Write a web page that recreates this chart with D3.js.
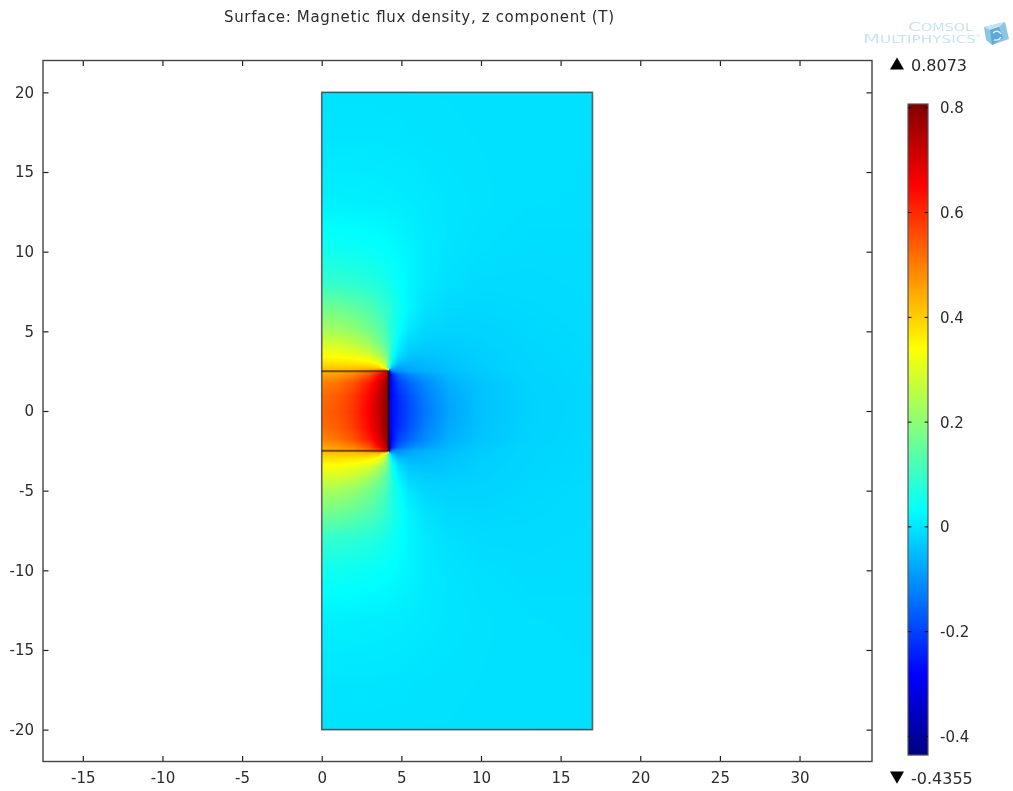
<!DOCTYPE html>
<html><head><meta charset="utf-8">
<script src="https://cdn.jsdelivr.net/npm/d3@7/dist/d3.min.js"></script>
<style>
html,body{margin:0;padding:0;background:#fff;overflow:hidden}
#wrap{position:relative;width:1013px;height:791px}
canvas,svg{position:absolute;left:0;top:0}
canvas{filter:blur(0.7px)}
text{font-family:"DejaVu Sans";fill:#2b2b2b}
</style></head><body><div id="wrap"><canvas id="field" width="1013" height="791"></canvas><svg id="chart" width="1013" height="791"></svg></div>
<script>
const titleText = "Surface: Magnetic flux density, z component (T)";
const xTicks = [-15,-10,-5,0,5,10,15,20,25,30];
const yTicks = [-20,-15,-10,-5,0,5,10,15,20];
const barTicks = [-0.4,-0.2,0,0.2,0.4,0.6,0.8];
const minValue = -0.4355, maxValue = 0.8073;
const domainBox = {x0:0,x1:17,y0:-20,y1:20};
const magnetBox = {x0:0,x1:4.2,y0:-2.5,y1:2.5};
// grid columns (radial position); 4.2 twice because the field jumps at the magnet side
const gridX = [0,1,2,3,3.6,4,4.2,4.2,4.4,4.8,5.5,6.5,8,10,13,17];
// grid rows (upper half, the picture is mirror-symmetric about y = 0)
const gridY = [0,1,1.8,2.3,2.5,2.7,3,3.5,4.2,5,6.5,8,10,13,17,20];
const fieldRows = [
[.53,.55,.59,.66,.73,.78,.80,-.30,-.27,-.235,-.19,-.135,-.08,-.045,-.025,-.015],
[.52,.54,.58,.65,.72,.78,.80,-.31,-.27,-.23,-.18,-.125,-.075,-.043,-.024,-.015],
[.49,.51,.55,.62,.69,.76,.80,-.34,-.27,-.20,-.155,-.11,-.065,-.04,-.023,-.014],
[.45,.46,.49,.55,.64,.73,.77,-.42,-.24,-.16,-.115,-.085,-.055,-.035,-.021,-.014],
[.43,.44,.45,.50,.55,.62,.62,-.30,-.13,-.10,-.08,-.065,-.048,-.033,-.02,-.014],
[.41,.41,.41,.41,.40,.30,.10,.10,-.05,-.09,-.075,-.06,-.045,-.032,-.02,-.014],
[.375,.375,.37,.36,.33,.24,.16,.16,.02,-.045,-.06,-.055,-.042,-.03,-.02,-.014],
[.335,.33,.32,.29,.24,.19,.14,.14,.05,-.005,-.04,-.043,-.037,-.028,-.019,-.013],
[.29,.285,.265,.225,.18,.145,.115,.115,.075,.02,-.02,-.03,-.03,-.025,-.018,-.013],
[.235,.23,.21,.175,.145,.12,.095,.095,.075,.04,0,-.018,-.023,-.022,-.016,-.012],
[.165,.16,.145,.125,.105,.09,.08,.08,.068,.048,.02,-.004,-.014,-.016,-.014,-.011],
[.095,.09,.085,.075,.065,.058,.053,.053,.048,.037,.02,.004,-.007,-.012,-.012,-.01],
[.05,.048,.044,.04,.037,.034,.031,.031,.03,.025,.018,.007,-.002,-.007,-.01,-.009],
[.014,.014,.013,.012,.011,.011,.01,.01,.01,.009,.007,.004,0,-.004,-.007,-.008],
[0,0,0,0,0,-.001,-.001,-.001,-.001,-.001,-.002,-.003,-.004,-.005,-.006,-.007],
[-.004,-.004,-.004,-.004,-.004,-.004,-.004,-.004,-.004,-.004,-.005,-.005,-.005,-.006,-.006,-.007]
];
const jetStops = ["#000080","#0000ff","#00ffff","#ffff00","#ff0000","#800000"];
const jetPositions = [0,0.125,0.375,0.625,0.875,1];

const x = d3.scaleLinear().domain([-17.5,34.55]).range([43,872]);
const y = d3.scaleLinear().domain([-22.0,22.0]).range([761.5,60.5]);
const t = d3.scaleLinear().domain([minValue,maxValue]).range([0,1]);
const jet = d3.scaleLinear().domain(jetPositions).range(jetStops).interpolate(d3.interpolateRgb).clamp(true);
const colour = v => jet(t(v));

function fieldAt(ux,uy){
  const ay = Math.abs(uy);
  let i = d3.bisectRight(gridX,ux)-1;
  if(i>=gridX.length-1) i=gridX.length-2;
  if(gridX[i]===gridX[i+1]) i = ux<gridX[i]? i-1 : i+1;
  let j = d3.bisectRight(gridY,ay)-1;
  if(j>=gridY.length-1) j=gridY.length-2;
  const fx=(ux-gridX[i])/(gridX[i+1]-gridX[i]), fy=(ay-gridY[j])/(gridY[j+1]-gridY[j]);
  const r0=fieldRows[j], r1=fieldRows[j+1];
  return (r0[i]*(1-fx)+r0[i+1]*fx)*(1-fy)+(r1[i]*(1-fx)+r1[i+1]*fx)*fy;
}
const ctx = document.getElementById("field").getContext("2d");
const px0=Math.round(x(domainBox.x0)), px1=Math.round(x(domainBox.x1));
const py0=Math.round(y(domainBox.y1)), py1=Math.round(y(domainBox.y0));
const img = ctx.createImageData(px1-px0,py1-py0);
const lut = d3.range(1024).map(k=>d3.rgb(jet(k/1023)));
for(let py=py0;py<py1;py++)for(let px=px0;px<px1;px++){
  const v=fieldAt(x.invert(px+.5),y.invert(py+.5));
  const c=lut[Math.max(0,Math.min(1023,Math.round(t(v)*1023)))];
  const o=4*((py-py0)*(px1-px0)+(px-px0));
  img.data[o]=c.r;img.data[o+1]=c.g;img.data[o+2]=c.b;img.data[o+3]=255;
}
ctx.putImageData(img,px0,py0);

const svg = d3.select("#chart");
const axisColor="#444";
svg.append("text").attr("x",419).attr("y",22).attr("text-anchor","middle").attr("textLength",390).attr("lengthAdjust","spacing").style("font-size","15px").text(titleText);

svg.append("rect").attr("x",x(domainBox.x0)).attr("y",y(domainBox.y1)).attr("width",x(domainBox.x1)-x(domainBox.x0)).attr("height",y(domainBox.y0)-y(domainBox.y1))
  .attr("fill","none").attr("stroke","#444").attr("stroke-width",1.6).attr("stroke-opacity",.85);
const magnet=svg.append("g").attr("fill","none");
const mx0=x(magnetBox.x0),mx1=x(magnetBox.x1),my0=y(magnetBox.y1),my1=y(magnetBox.y0);
magnet.append("path").attr("d",`M${mx0} ${my0}H${mx1}M${mx0} ${my1}H${mx1}`).attr("stroke","#2a1a00").attr("stroke-width",2).attr("stroke-opacity",.65);
magnet.append("path").attr("d",`M${mx1} ${my0}V${my1}`).attr("stroke","#111").attr("stroke-width",2).attr("stroke-opacity",.85);

function styleAxis(g,labels){
  g.select(".domain").remove();
  g.selectAll("line").attr("stroke","#222").attr("stroke-width",1.2);
  g.selectAll("text").style("font-size","15px").style("font-family",'"DejaVu Sans"').attr("fill","#2b2b2b");
  if(!labels) g.selectAll("text").remove();
}
const fmt = d=>String(d);
svg.append("g").attr("transform",`translate(0,${y.range()[0]})`).call(d3.axisBottom(x).tickValues(xTicks).tickFormat(fmt).tickSizeInner(-5.5).tickPadding(11)).call(styleAxis,true);
svg.append("g").attr("transform",`translate(0,${y.range()[1]})`).call(d3.axisTop(x).tickValues(xTicks).tickFormat(fmt).tickSizeInner(-5.5)).call(styleAxis,false);
svg.append("g").attr("transform",`translate(${x.range()[0]},0)`).call(d3.axisLeft(y).tickValues(yTicks).tickFormat(fmt).tickSizeInner(-5.5).tickPadding(9)).call(styleAxis,true);
svg.append("g").attr("transform",`translate(${x.range()[1]},0)`).call(d3.axisRight(y).tickValues(yTicks).tickFormat(fmt).tickSizeInner(-5.5)).call(styleAxis,false);
svg.append("rect").attr("x",43).attr("y",60.5).attr("width",829).attr("height",701).attr("fill","none").attr("stroke",axisColor).attr("stroke-width",1.4);

const barY = d3.scaleLinear().domain([minValue,maxValue]).range([755,104]);
const barX0=908, barX1=928;
svg.append("g").selectAll("rect").data(d3.range(104,755)).join("rect")
  .attr("x",barX0).attr("y",d=>d).attr("width",barX1-barX0).attr("height",1.2)
  .attr("fill",d=>colour(barY.invert(d+.5)));
svg.append("rect").attr("x",barX0).attr("y",104).attr("width",barX1-barX0).attr("height",651).attr("fill","none").attr("stroke","#555").attr("stroke-width",1.2);
const barG=svg.append("g").selectAll("g").data(barTicks).join("g");
barG.append("line").attr("x1",barX0).attr("x2",barX0+3.5).attr("y1",d=>barY(d)).attr("y2",d=>barY(d)).attr("stroke","#111");
barG.append("line").attr("x1",barX1-3.5).attr("x2",barX1).attr("y1",d=>barY(d)).attr("y2",d=>barY(d)).attr("stroke","#111");
barG.append("text").attr("x",940).attr("y",d=>barY(d)).attr("dy","0.36em").style("font-size","15px").text(fmt);

const tri=d3.symbol(d3.symbolTriangle,85)();
svg.append("path").attr("d",tri).attr("transform","translate(897,65.5)").attr("fill","#000");
svg.append("path").attr("d",tri).attr("transform","translate(897,775.6) rotate(180)").attr("fill","#000");
svg.append("text").attr("x",911).attr("y",65).attr("dy","0.36em").style("font-size","16px").text(maxValue.toFixed(4));
svg.append("text").attr("x",911).attr("y",778).attr("dy","0.36em").style("font-size","16px").text(minValue.toFixed(4));

const logo=svg.append("g");
const logoText=(head,rest,xp,yp,w)=>{
  const tx=logo.append("text").attr("x",xp).attr("y",yp).attr("textLength",w).attr("lengthAdjust","spacingAndGlyphs").style("fill","#c9e4f1");
  tx.append("tspan").style("font-size","13px").style("fill","#c9e4f1").text(head);
  tx.append("tspan").style("font-size","10px").style("fill","#c9e4f1").text(rest);
};
logoText("C","OMSOL",908,31,65);
logoText("M","ULTIPHYSICS",863,43,113);
logo.append("text").attr("x",976).attr("y",37).style("font-size","4px").style("fill","#c9e4f1").text("®");
logo.append("path").attr("d","M984 27 L1005 22 L1009 39 L992 45 L986 40 Z").attr("fill","#8cc6e4");
logo.append("path").attr("d","M984 27 L1005 22 L999 27 L990 30 Z").attr("fill","#c4e3f3");
logo.append("path").attr("d","M990 30 L999 27 L1003 38 L992 45 Z").attr("fill","#5fa9d6");
logo.append("path").attr("d","M993 33 Q998 29 1001 34 M994 40 Q999 41 1001 37").attr("fill","none").attr("stroke","#e6f4fb").attr("stroke-width",1.3);
</script></body></html>
